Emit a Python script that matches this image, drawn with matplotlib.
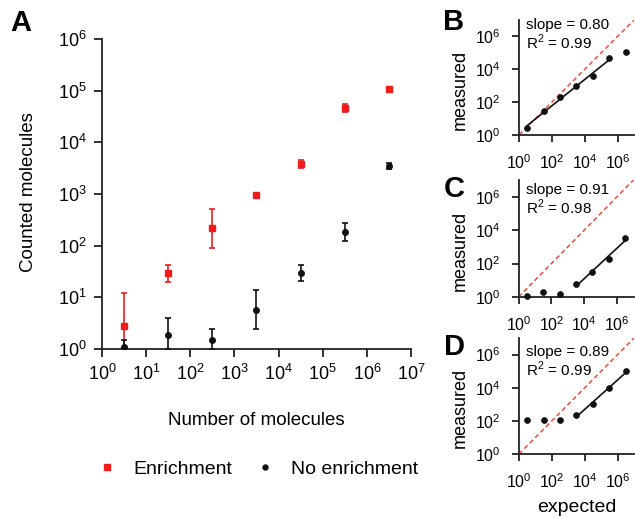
import numpy as np
import matplotlib
matplotlib.use("Agg")
import matplotlib.pyplot as plt
from matplotlib.ticker import LogLocator, NullLocator, LogFormatterSciNotation
from matplotlib.lines import Line2D

plt.rcParams['font.family'] = ['Liberation Sans', 'DejaVu Sans']
plt.rcParams['mathtext.fontset'] = 'custom'
plt.rcParams['mathtext.rm'] = 'Liberation Sans'

# ---- data ----
expected = [3.16, 31.6, 316, 3162, 31623, 316228, 3162278]

enr_mean = [2.8, 29.5, 215, 940, 3800, 46500, 110000]
enr_low = [1.0, 20, 91, 880, 3200, 38000, 102000]
enr_high = [12.3, 43, 510, 1000, 4500, 54000, 118000]

noenr_mean = [1.1, 1.9, 1.5, 5.8, 29.5, 185, 3500]
noenr_low = [0.8, 1.0, 1.0, 2.4, 21, 124, 3000]
noenr_high = [1.5, 3.9, 2.4, 14, 42, 280, 4000]

panelD_measured = [117, 117, 112, 224, 1020, 9600, 96000]

fitB_range = (0, 6)   # indices used for fit
fitC_range = (3, 7)
fitD_range = (3, 7)

slopes_text = ["slope = 0.80", "slope = 0.91", "slope = 0.89"]
r2_text = ["R$^2$ = 0.99", "R$^2$ = 0.98", "R$^2$ = 0.99"]

RED = '#ee1c1c'
BLACK = '#111111'

W, H = 635, 518
fig = plt.figure(figsize=(W / 100, H / 100), dpi=100)


def rect(x0, y0, x1, y1):
    return [x0 / W, 1 - y1 / H, (x1 - x0) / W, (y1 - y0) / H]


def style(ax, fs, pad=5, length=6):
    ax.spines['top'].set_visible(False)
    ax.spines['right'].set_visible(False)
    for s in ('left', 'bottom'):
        ax.spines[s].set_linewidth(1.3)
        ax.spines[s].set_color('#222222')
    ax.tick_params(which='major', direction='out', length=length, width=1.3,
                   labelsize=fs, color='#222222', pad=pad)
    ax.xaxis.set_minor_locator(NullLocator())
    ax.yaxis.set_minor_locator(NullLocator())


# ---- Panel A ----
axA = fig.add_axes(rect(102, 39, 411, 349))
x = np.array(expected)
em = np.array(enr_mean)
nm = np.array(noenr_mean)
axA.errorbar(x, em, yerr=[em - np.array(enr_low), np.array(enr_high) - em],
             fmt='s', color=RED, ms=4.5, capsize=2.5, elinewidth=1.2,
             capthick=1.2, zorder=3)
axA.errorbar(x, nm, yerr=[nm - np.array(noenr_low), np.array(noenr_high) - nm],
             fmt='o', color=BLACK, ms=4.0, capsize=2.5, elinewidth=1.2,
             capthick=1.2, zorder=3)
axA.set_xscale('log')
axA.set_yscale('log')
axA.set_xlim(1, 1e7)
axA.set_ylim(1, 1e6)
axA.xaxis.set_major_locator(LogLocator(base=10, numticks=20))
axA.yaxis.set_major_locator(LogLocator(base=10, numticks=20))
axA.xaxis.set_major_formatter(LogFormatterSciNotation())
axA.yaxis.set_major_formatter(LogFormatterSciNotation())
style(axA, 13)
axA.set_ylabel('Counted molecules', fontsize=13.5)
axA.yaxis.set_label_coords((37 - 102) / 309, 0.505)
axA.set_xlabel('Number of molecules', fontsize=13.5, labelpad=20)

handles = [Line2D([], [], ls='none', marker='s', color=RED, ms=4),
           Line2D([], [], ls='none', marker='o', color=BLACK, ms=3.6)]
fig.legend(handles, ['Enrichment', 'No enrichment'], loc='center',
           bbox_to_anchor=(258 / W, 1 - 469 / H), ncol=2, frameon=False,
           fontsize=14, handlelength=1, handletextpad=0.84, columnspacing=1.2)

fig.text(20.5 / W, 1 - 23 / H, 'A', fontsize=21, fontweight='bold',
         ha='center', va='center')


# ---- Panels B, C, D ----
def small_panel(r, meas, fit_idx, letter, letter_y, stext, rtext, text_y,
                xlabel=False):
    ax = fig.add_axes(r)
    ax.plot([1, 1e7], [1, 1e7], ls=(0, (3, 2)), color='#f04a3a', lw=1.1,
            zorder=1)
    xa = np.array(expected)
    ya = np.array(meas)
    ax.plot(xa, ya, 'o', color=BLACK, ms=3.8, zorder=3, clip_on=False)
    i0, i1 = fit_idx
    lx = np.log10(xa[i0:i1])
    ly = np.log10(ya[i0:i1])
    p = np.polyfit(lx, ly, 1)
    ax.plot(10 ** lx, 10 ** np.polyval(p, lx), color=BLACK, lw=1.2, zorder=2)
    ax.set_xscale('log')
    ax.set_yscale('log')
    ax.set_xlim(1, 1e7)
    ax.set_ylim(1, 1e7)
    ticks = [1, 1e2, 1e4, 1e6]
    ax.set_xticks(ticks)
    ax.set_yticks(ticks)
    ax.xaxis.set_major_formatter(LogFormatterSciNotation())
    ax.yaxis.set_major_formatter(LogFormatterSciNotation())
    style(ax, 11.5, pad=8, length=5)
    ax.set_ylabel('measured', fontsize=13)
    ax.yaxis.set_label_coords((469 - r[0] * W) / (r[2] * W), 0.395)
    if xlabel:
        ax.set_xlabel('expected', fontsize=14, labelpad=6)
    fig.text(454 / W, 1 - letter_y / H, letter, fontsize=21,
             fontweight='bold', ha='center', va='center')
    fig.text(526 / W, 1 - text_y / H, stext, fontsize=11, ha='left',
             va='center')
    fig.text(526 / W, 1 - (text_y + 17.5) / H, rtext, fontsize=11,
             ha='left', va='center')
    return ax


small_panel(rect(519, 20, 634, 135), enr_mean, fitB_range, 'B', 22,
            slopes_text[0], r2_text[0], 25)
small_panel(rect(518.5, 180, 633.5, 297), noenr_mean, fitC_range, 'C', 189,
            slopes_text[1], r2_text[1], 190)
small_panel(rect(519, 338, 634, 454), panelD_measured, fitD_range, 'D', 347,
            slopes_text[2], r2_text[2], 352, xlabel=True)

fig.savefig('out.png', dpi=100)
